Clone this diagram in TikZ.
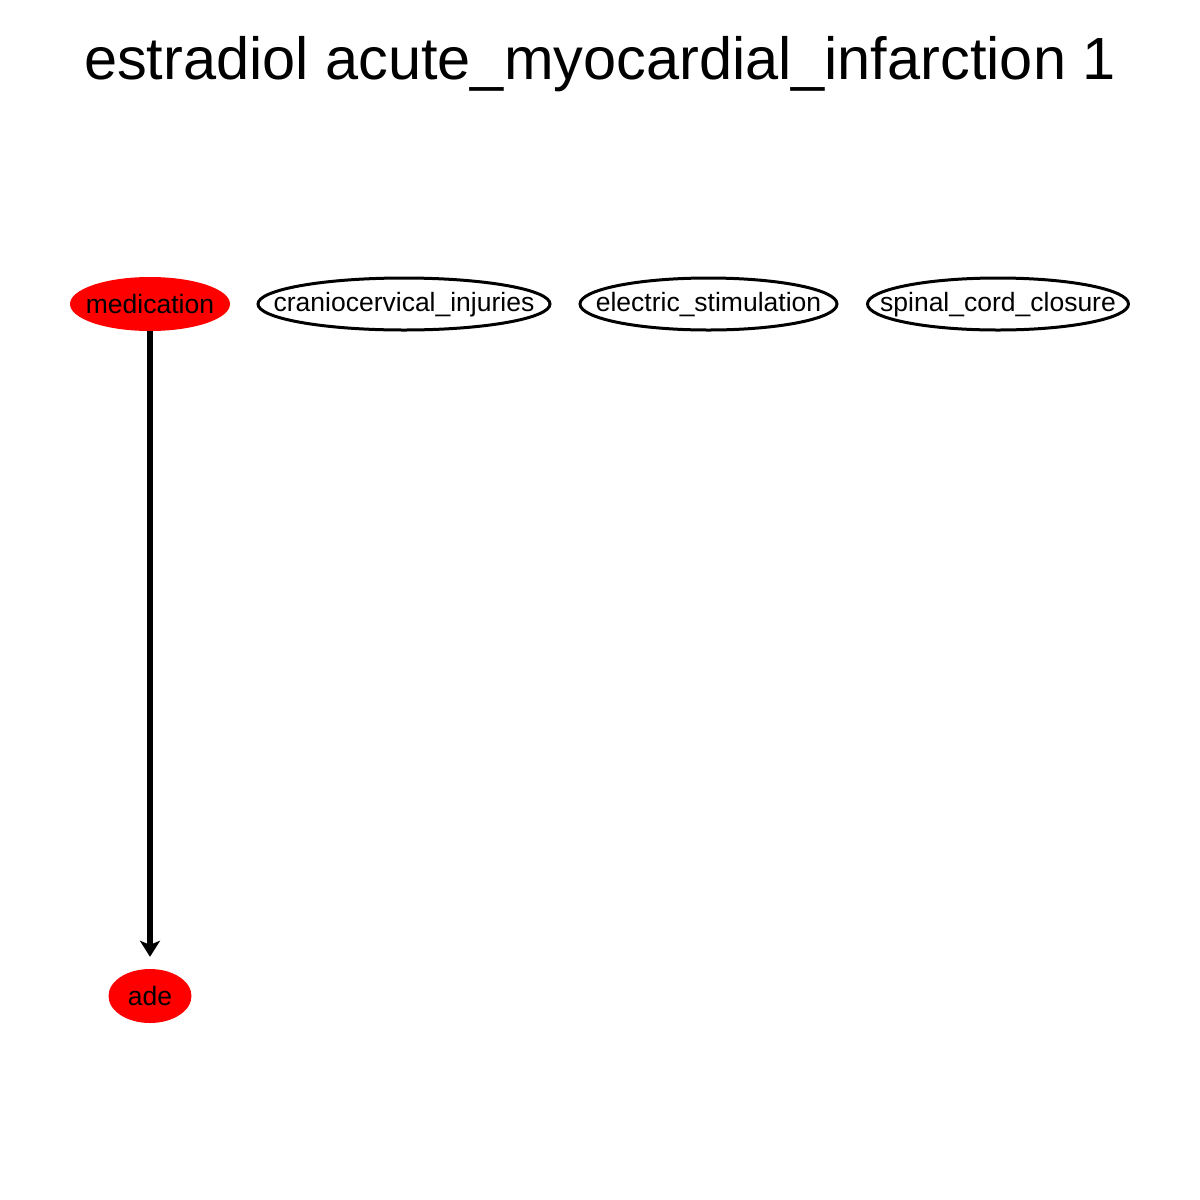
\documentclass[tikz,border=0pt]{standalone}
\usepackage{fontspec}
\setmainfont{Liberation Sans}
\usetikzlibrary{arrows.meta}
\begin{document}
\begin{tikzpicture}[x=1pt,y=-1pt,
  nd/.style={rectangle,inner sep=0pt,minimum height=53pt,font=\fontsize{26.5}{30}\selectfont},
  redfill/.style={fill=red},
  blackline/.style={draw=black,line width=3pt},
  edge/.style={line width=5.5pt,-{Stealth[length=16pt,width=20pt,inset=4pt]}}]
\useasboundingbox (0,0) rectangle (1200,1200);
\node[font=\fontsize{59.5}{70}\selectfont] (title) at (600,64) {estradiol acute\_myocardial\_infarction 1};
% ellipses
\fill[redfill] (150,304) ellipse [x radius=80pt, y radius=27pt];
\draw[blackline] (404,304) ellipse [x radius=146pt, y radius=26pt];
\draw[blackline] (708.5,304) ellipse [x radius=128.5pt, y radius=26pt];
\draw[blackline] (998,304) ellipse [x radius=130.5pt, y radius=26pt];
\fill[redfill] (150,996) ellipse [x radius=41.5pt, y radius=27pt];
% labels
\node[nd,minimum width=160pt,minimum height=54pt] (medication) at (150,304) {medication};
\node[nd,minimum width=292pt] (cran) at (404,305) {craniocervical\_injuries};
\node[nd,minimum width=257pt] (elec) at (708.5,305) {electric\_stimulation};
\node[nd,minimum width=261pt] (spinal) at (998,305) {spinal\_cord\_closure};
\node[nd,minimum width=83pt,minimum height=54pt] (ade) at (150,996) {ade};
\draw[edge] (medication.south) -- ([yshift=12pt]ade.north);
\end{tikzpicture}
\end{document}
